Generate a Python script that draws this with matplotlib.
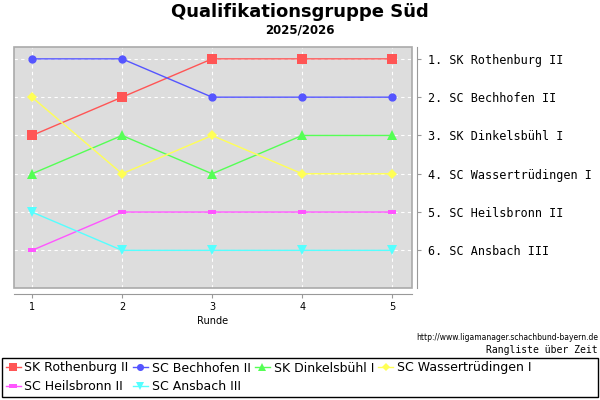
import matplotlib
matplotlib.use('Agg')
from matplotlib import pyplot as plt
from matplotlib.patches import Rectangle

# Ranking per round.
rounds = [1, 2, 3, 4, 5]
teams = ['SK Rothenburg II', 'SC Bechhofen II', 'SK Dinkelsbühl I',
         'SC Wassertrüdingen I', 'SC Heilsbronn II', 'SC Ansbach III']
rothenburg = [3, 2, 1, 1, 1]
bechhofen = [1, 1, 2, 2, 2]
dinkelsbuehl = [4, 3, 4, 3, 3]
wassertruedingen = [2, 4, 3, 4, 4]
heilsbronn = [6, 5, 5, 5, 5]
ansbach = [5, 6, 6, 6, 6]
final_ranks = [1, 2, 3, 4, 5, 6]

series = [rothenburg, bechhofen, dinkelsbuehl, wassertruedingen, heilsbronn, ansbach]
colors = ['#ff5555', '#5555ff', '#55ff55', '#ffff55', '#ff55ff', '#55ffff']
flat_rect = [(-1, -0.55), (1, -0.55), (1, 0.55), (-1, 0.55), (-1, -0.55)]
markers = ['s', 'o', '^', 'D', flat_rect, 'v']
msizes = [6.5, 6, 6.5, 5, 6, 6.5]

fig = plt.figure(figsize=(6, 4), dpi=100)
ax = fig.add_axes([14/600, 1-287.5/400, 398/600, 240.5/400])
ax.set_facecolor('#dddddd')

lines = []
for vals, name, c, m, ms in zip(series, teams, colors, markers, msizes):
    ln, = ax.plot(rounds, vals, color=c, marker=m, markersize=ms, lw=1,
                  markeredgewidth=0, label=name, zorder=3)
    lines.append(ln)

ax.set_xlim(0.8, 5.22)
ax.set_ylim(6.97, 0.69)
ax.grid(True, color='white', linestyle=(0, (3, 3)), lw=0.8)
ax.set_xticks(rounds)
ax.set_yticks(final_ranks,
              labels=['%d. %s' % (r, t) for r, t in zip(final_ranks, teams)])

# box round the plot area, axes pushed outward like the original
for s in ['left', 'top']:
    ax.spines[s].set_visible(False)
ax.spines['bottom'].set_position(('outward', 4.5))
ax.spines['bottom'].set_color('#999999')
ax.spines['right'].set_position(('outward', 3.5))
ax.spines['right'].set_color('#999999')
ax.add_patch(Rectangle((0, 0), 1, 1, transform=ax.transAxes, fill=False,
                       edgecolor='#aaaaaa', lw=1.2, zorder=5, clip_on=False))
ax.tick_params(axis='y', left=False, labelleft=False, right=True,
               labelright=True, direction='out', length=3, color='#999999',
               pad=5, labelsize=8.5, labelfontfamily='DejaVu Sans Mono')
ax.tick_params(axis='x', direction='out', length=3, color='#999999',
               labelsize=7, pad=3)
ax.set_xlabel('Runde', fontsize=7, labelpad=3)

fig.text(0.5, 1-12/400, 'Qualifikationsgruppe Süd', ha='center', va='center',
         fontsize=13, fontweight='bold')
fig.text(0.5, 1-30/400, '2025/2026', ha='center', va='center',
         fontsize=8.5, fontweight='bold')
fig.text(598/600, 1-338/400, 'http://www.ligamanager.schachbund-bayern.de',
         ha='right', va='center', fontsize=5.5, family='DejaVu Sans Condensed')
fig.text(598/600, 1-350/400, 'Rangliste über Zeit', ha='right', va='center',
         fontsize=7, family='DejaVu Sans Mono')

# Legend box across the full width, entries reordered to fill row by row.
fig.patches.append(Rectangle((2/600, 3/400), 596/600, 39/400,
                             transform=fig.transFigure, fill=False,
                             edgecolor='black', lw=1))
order = [0, 4, 1, 5, 2, 3]
leg = fig.legend([lines[i] for i in order], [teams[i] for i in order],
                 loc='upper left', bbox_to_anchor=(3/600, 1-359/400),
                 ncol=4, fontsize=9, frameon=False, handlelength=1.2,
                 handletextpad=0.3, columnspacing=0.35, borderaxespad=0,
                 borderpad=0.2, labelspacing=0.45, markerscale=0.85)

plt.savefig('out.png', dpi=100)
